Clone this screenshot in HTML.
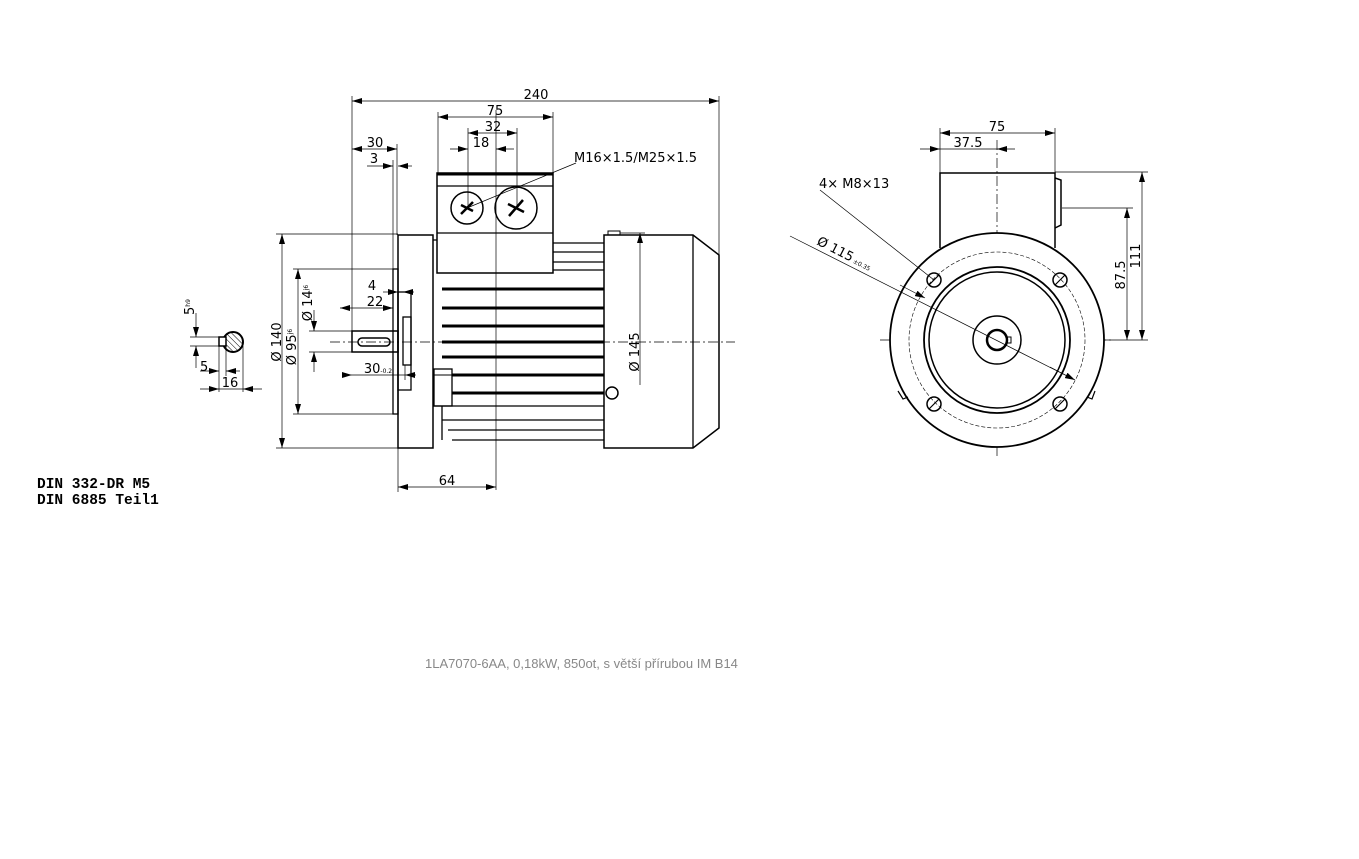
<!DOCTYPE html>
<html><head><meta charset="utf-8"><style>
html,body{margin:0;padding:0;background:#fff}
svg{display:block}
text{font-family:"DejaVu Sans","Liberation Sans",sans-serif;fill:#000}
</style></head><body>
<svg width="1359" height="859" viewBox="0 0 1359 859" xmlns="http://www.w3.org/2000/svg">
<defs>
<marker id="a" viewBox="0 0 10 6" refX="10" refY="3" markerWidth="10" markerHeight="6" orient="auto-start-reverse" markerUnits="userSpaceOnUse"><path d="M0,0L10,3L0,6z" fill="#000"/></marker>
<pattern id="h" width="4" height="4" patternUnits="userSpaceOnUse" patternTransform="rotate(-45)"><line x1="0" y1="0" x2="0" y2="4" stroke="#000" stroke-width="1"/></pattern>
</defs>
<g stroke="#000" fill="none" stroke-width="1">
<line x1="330" y1="342" x2="735" y2="342" stroke-dasharray="10,3,2,3" stroke-width="0.7"/>
<line x1="496" y1="110" x2="496" y2="490" stroke-width="0.7"/>
<line x1="352" y1="96" x2="352" y2="342" stroke-width="0.7"/>
<line x1="719" y1="96" x2="719" y2="255" stroke-width="0.7"/>
<line x1="352" y1="101" x2="719" y2="101" marker-start="url(#a)" marker-end="url(#a)" stroke-width="0.7"/>
<line x1="438" y1="112" x2="438" y2="175" stroke-width="0.7"/>
<line x1="553" y1="112" x2="553" y2="175" stroke-width="0.7"/>
<line x1="438" y1="117" x2="553" y2="117" marker-start="url(#a)" marker-end="url(#a)" stroke-width="0.7"/>
<line x1="468" y1="128" x2="468" y2="208" stroke-width="0.7"/>
<line x1="517" y1="128" x2="517" y2="208" stroke-width="0.7"/>
<line x1="468" y1="133" x2="517" y2="133" marker-start="url(#a)" marker-end="url(#a)" stroke-width="0.7"/>
<line x1="450" y1="149" x2="468" y2="149" marker-end="url(#a)" stroke-width="0.7"/>
<line x1="514" y1="149" x2="496" y2="149" marker-end="url(#a)" stroke-width="0.7"/>
<line x1="397" y1="144" x2="397" y2="235" stroke-width="0.7"/>
<line x1="352" y1="149" x2="397" y2="149" marker-start="url(#a)" marker-end="url(#a)" stroke-width="0.7"/>
<line x1="367" y1="166" x2="393" y2="166" marker-end="url(#a)" stroke-width="0.7"/>
<line x1="412" y1="166" x2="398" y2="166" marker-end="url(#a)" stroke-width="0.7"/>
<line x1="393" y1="160" x2="393" y2="269" stroke-width="0.7"/>
<line x1="467" y1="208" x2="576" y2="163" stroke-width="0.7"/>
<rect x="437" y="173" width="116" height="100" stroke-width="1.5"/>
<line x1="437" y1="174" x2="553" y2="174" stroke-width="3"/>
<line x1="437" y1="186" x2="553" y2="186" stroke-width="1.2"/>
<line x1="437" y1="233" x2="553" y2="233" stroke-width="1.2"/>
<circle cx="467" cy="208" r="16" stroke-width="1.5"/>
<circle cx="516" cy="208" r="21" stroke-width="1.5"/>
<path d="M461,214L473,202M461,205L473,211" stroke-width="2.5"/>
<path d="M509,216L523,200M508,204L524,212" stroke-width="2.5"/>
<rect x="398" y="235" width="35" height="213" stroke-width="1.5"/>
<rect x="393" y="269" width="5" height="145" stroke-width="1.3"/>
<rect x="398" y="292" width="13" height="98" stroke-width="1.3"/>
<rect x="403" y="317" width="8" height="48" stroke-width="1.3"/>
<rect x="352" y="331" width="46" height="21" stroke-width="1.5"/>
<rect x="358" y="338" width="32" height="8" rx="4" stroke-width="1.5"/>
<path d="M433,240L437,240M553,243L604,243M553,252L604,252M553,262L604,262M553,270L604,270" stroke-width="1.2"/>
<g stroke-width="3">
<line x1="442" y1="289" x2="604" y2="289"/><line x1="442" y1="308" x2="604" y2="308"/>
<line x1="442" y1="326" x2="604" y2="326"/><line x1="442" y1="342" x2="604" y2="342"/>
<line x1="442" y1="357" x2="604" y2="357"/><line x1="452" y1="375" x2="604" y2="375"/>
<line x1="452" y1="393" x2="604" y2="393"/>
</g>
<path d="M433,406L604,406M442,406L442,440M442,420L604,420M448,430L604,430M452,440L604,440" stroke-width="1.3"/>
<rect x="434" y="369" width="18" height="37" stroke-width="1.3"/>
<line x1="434" y1="375" x2="452" y2="375" stroke-width="1"/>
<path d="M604,235L693,235L719,255L719,428L693,448L604,448Z" stroke-width="1.5"/>
<line x1="693" y1="235" x2="693" y2="448" stroke-width="1.3"/>
<rect x="608" y="231" width="12" height="4" stroke-width="1"/>
<circle cx="612" cy="393" r="6" stroke-width="1.5"/>
<line x1="620" y1="233" x2="645" y2="233" stroke-width="0.7"/>
<line x1="640" y1="385" x2="640" y2="233" marker-end="url(#a)" stroke-width="0.7"/>
<line x1="276" y1="234" x2="398" y2="234" stroke-width="0.7"/>
<line x1="276" y1="448" x2="398" y2="448" stroke-width="0.7"/>
<line x1="282" y1="234" x2="282" y2="448" marker-start="url(#a)" marker-end="url(#a)" stroke-width="0.7"/>
<line x1="293" y1="269" x2="393" y2="269" stroke-width="0.7"/>
<line x1="293" y1="414" x2="393" y2="414" stroke-width="0.7"/>
<line x1="298" y1="269" x2="298" y2="414" marker-start="url(#a)" marker-end="url(#a)" stroke-width="0.7"/>
<line x1="309" y1="331" x2="352" y2="331" stroke-width="0.7"/>
<line x1="309" y1="352" x2="352" y2="352" stroke-width="0.7"/>
<line x1="314" y1="310" x2="314" y2="331" marker-end="url(#a)" stroke-width="0.7"/>
<line x1="314" y1="372" x2="314" y2="352" marker-end="url(#a)" stroke-width="0.7"/>
<line x1="383" y1="292" x2="398" y2="292" marker-end="url(#a)" stroke-width="0.7"/>
<line x1="414" y1="292" x2="403" y2="292" marker-end="url(#a)" stroke-width="0.7"/>
<line x1="340" y1="308" x2="393" y2="308" marker-start="url(#a)" marker-end="url(#a)" stroke-width="0.7"/>
<line x1="345" y1="375" x2="352" y2="375" marker-end="url(#a)" stroke-width="0.7"/>
<line x1="352" y1="375" x2="405" y2="375" stroke-width="0.7"/>
<line x1="416" y1="375" x2="405" y2="375" marker-end="url(#a)" stroke-width="0.7"/>
<line x1="405" y1="365" x2="405" y2="380" stroke-width="0.7"/>
<line x1="398" y1="448" x2="398" y2="492" stroke-width="0.7"/>
<line x1="398" y1="487" x2="496" y2="487" marker-start="url(#a)" marker-end="url(#a)" stroke-width="0.7"/>
<circle cx="233" cy="342" r="10" fill="url(#h)" stroke-width="2"/>
<rect x="219" y="337" width="7" height="9" fill="#fff" stroke-width="1.5"/>
<line x1="190" y1="337" x2="219" y2="337" stroke-width="0.7"/>
<line x1="190" y1="346" x2="219" y2="346" stroke-width="0.7"/>
<line x1="196" y1="313" x2="196" y2="337" marker-end="url(#a)" stroke-width="0.7"/>
<line x1="196" y1="368" x2="196" y2="346" marker-end="url(#a)" stroke-width="0.7"/>
<line x1="219" y1="346" x2="219" y2="392" stroke-width="0.7"/>
<line x1="226" y1="346" x2="226" y2="376" stroke-width="0.7"/>
<line x1="243" y1="346" x2="243" y2="392" stroke-width="0.7"/>
<line x1="200" y1="371" x2="219" y2="371" marker-end="url(#a)" stroke-width="0.7"/>
<line x1="240" y1="371" x2="226" y2="371" marker-end="url(#a)" stroke-width="0.7"/>
<line x1="200" y1="389" x2="219" y2="389" marker-end="url(#a)" stroke-width="0.7"/>
<line x1="262" y1="389" x2="243" y2="389" marker-end="url(#a)" stroke-width="0.7"/>
<line x1="219" y1="389" x2="243" y2="389" stroke-width="0.7"/>
<line x1="880" y1="340" x2="1112" y2="340" stroke-dasharray="10,3,2,3" stroke-width="0.7"/>
<line x1="997" y1="140" x2="997" y2="456" stroke-dasharray="10,3,2,3" stroke-width="0.7"/>
<path d="M940,248L940,173L1055,173L1055,248" stroke-width="1.5"/>
<path d="M1055,178L1061,180L1061,225L1055,228" stroke-width="1.5"/>
<circle cx="997" cy="340" r="107" fill="#fff" stroke-width="1.8"/>
<circle cx="997" cy="340" r="88" stroke-width="0.6" stroke-dasharray="4,2"/>
<circle cx="997" cy="340" r="73" stroke-width="1.8"/>
<circle cx="997" cy="340" r="68" stroke-width="1.5"/>
<circle cx="997" cy="340" r="24" stroke-width="1.5"/>
<circle cx="997" cy="340" r="10" stroke-width="2.5"/>
<rect x="1007" y="337" width="4" height="6" stroke-width="1"/>
<g stroke-width="1.5">
<circle cx="934" cy="280" r="7"/><circle cx="1060" cy="280" r="7"/>
<circle cx="934" cy="404" r="7"/><circle cx="1060" cy="404" r="7"/>
</g>
<path d="M929,285L939,275M1055,285L1065,275M929,409L939,399M1055,409L1065,399" stroke-width="1.2"/>
<path d="M898,391L903,399L908,397M1095,391L1092,399L1087,397" stroke-width="1.2"/>
<line x1="940" y1="128" x2="940" y2="173" stroke-width="0.7"/>
<line x1="1055" y1="128" x2="1055" y2="173" stroke-width="0.7"/>
<line x1="940" y1="133" x2="1055" y2="133" marker-start="url(#a)" marker-end="url(#a)" stroke-width="0.7"/>
<line x1="920" y1="149" x2="940" y2="149" marker-end="url(#a)" stroke-width="0.7"/>
<line x1="1015" y1="149" x2="997" y2="149" marker-end="url(#a)" stroke-width="0.7"/>
<line x1="940" y1="149" x2="997" y2="149" stroke-width="0.7"/>
<line x1="1055" y1="172" x2="1148" y2="172" stroke-width="0.7"/>
<line x1="1062" y1="208" x2="1133" y2="208" stroke-width="0.7"/>
<line x1="1105" y1="340" x2="1148" y2="340" stroke-width="0.7"/>
<line x1="1142" y1="172" x2="1142" y2="340" marker-start="url(#a)" marker-end="url(#a)" stroke-width="0.7"/>
<line x1="1127" y1="208" x2="1127" y2="340" marker-start="url(#a)" marker-end="url(#a)" stroke-width="0.7"/>
<line x1="820" y1="190" x2="934" y2="280" stroke-width="0.7"/>
<line x1="790" y1="236" x2="1075" y2="380" stroke-width="0.7"/>
<line x1="900" y1="285" x2="925" y2="298" marker-end="url(#a)" stroke-width="0.7"/>
<line x1="1050" y1="367" x2="1075" y2="380" marker-end="url(#a)" stroke-width="0.7"/>
</g>
<g font-size="13">
<text x="536" y="99" text-anchor="middle">240</text>
<text x="495" y="115" text-anchor="middle">75</text>
<text x="493" y="131" text-anchor="middle">32</text>
<text x="481" y="147" text-anchor="middle">18</text>
<text x="375" y="147" text-anchor="middle">30</text>
<text x="374" y="163" text-anchor="middle">3</text>
<text x="574" y="162">M16×1.5/M25×1.5</text>
<text x="372" y="290" text-anchor="middle">4</text>
<text x="375" y="306" text-anchor="middle">22</text>
<text x="378" y="373" text-anchor="middle">30<tspan font-size="6">-0.2</tspan></text>
<text x="447" y="485" text-anchor="middle">64</text>
<text transform="translate(281,342) rotate(-90)" text-anchor="middle">Ø 140</text>
<text transform="translate(296,347) rotate(-90)" text-anchor="middle">Ø 95<tspan font-size="6" dy="-4">j6</tspan></text>
<text transform="translate(312,303) rotate(-90)" text-anchor="middle">Ø 14<tspan font-size="6" dy="-4">j6</tspan></text>
<text transform="translate(639,352) rotate(-90)" text-anchor="middle">Ø 145</text>
<text transform="translate(194,315) rotate(-90)">5<tspan font-size="6" dy="-4">h9</tspan></text>
<text x="200" y="371">5</text>
<text x="230" y="387" text-anchor="middle">16</text>
<text x="997" y="131" text-anchor="middle">75</text>
<text x="968" y="147" text-anchor="middle">37.5</text>
<text x="819" y="188">4× M8×13</text>
<text transform="translate(816,244) rotate(27)">Ø 115<tspan font-size="6"> ±0.35</tspan></text>
<text transform="translate(1125,275) rotate(-90)" text-anchor="middle">87.5</text>
<text transform="translate(1140,256) rotate(-90)" text-anchor="middle">111</text>
</g>
<text x="37" y="488" font-size="14.5" font-weight="bold" style="font-family:'Liberation Mono',monospace">DIN 332-DR M5</text>
<text x="37" y="504" font-size="14.5" font-weight="bold" style="font-family:'Liberation Mono',monospace">DIN 6885 Teil1</text>
<text x="425" y="668" font-size="13" style="fill:#888;font-family:'Liberation Sans',sans-serif">1LA7070-6AA,  0,18kW, 850ot, s větší přírubou IM B14</text>
</svg>
</body></html>
